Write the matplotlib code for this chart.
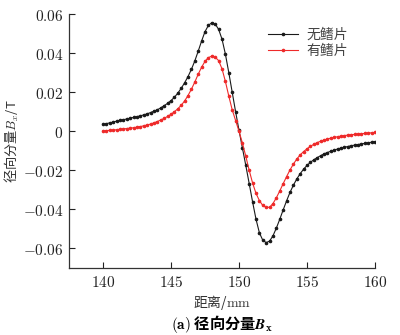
import matplotlib.pyplot as plt
import numpy as np

plt.rcParams['font.family'] = ['Noto Sans CJK SC', 'DejaVu Sans']
plt.rcParams['mathtext.fontset'] = 'cm'

# distance along the scan line, mm
x = np.arange(140, 160.001, 0.25)

# radial component Bx, T -- without fins
bx_plain = [
    0.0035, 0.0039, 0.0043, 0.0047, 0.0052, 0.0056, 0.0059, 0.0063,
    0.0067, 0.0071, 0.0075, 0.0079, 0.0084, 0.0089, 0.0096, 0.0103,
    0.0110, 0.0120, 0.0131, 0.0143, 0.0157, 0.0174, 0.0195, 0.0220,
    0.0248, 0.0280, 0.0317, 0.0360, 0.0410, 0.0462, 0.0510, 0.0542,
    0.0556, 0.0549, 0.0522, 0.0472, 0.0395, 0.0300, 0.0200, 0.0100,
    0.0005, -0.0085, -0.0175, -0.0268, -0.0362, -0.0450, -0.0520, -0.0558,
    -0.0570, -0.0562, -0.0535, -0.0495, -0.0450, -0.0402, -0.0356, -0.0313,
    -0.0276, -0.0244, -0.0217, -0.0194, -0.0175, -0.0159, -0.0146, -0.0135,
    -0.0125, -0.0116, -0.0109, -0.0102, -0.0096, -0.0091, -0.0086, -0.0082,
    -0.0078, -0.0074, -0.0071, -0.0068, -0.0065, -0.0062, -0.0059, -0.0056,
    -0.0053,
]

# radial component Bx, T -- with fins
bx_fins = [
    0.0001, 0.0003, 0.0005, 0.0006, 0.0008, 0.0010, 0.0012, 0.0014,
    0.0016, 0.0018, 0.0021, 0.0024, 0.0028, 0.0032, 0.0037, 0.0043,
    0.0050, 0.0058, 0.0066, 0.0076, 0.0087, 0.0100, 0.0115, 0.0133,
    0.0155, 0.0183, 0.0215, 0.0252, 0.0292, 0.0328, 0.0358, 0.0377,
    0.0385, 0.0379, 0.0362, 0.0320, 0.0255, 0.0180, 0.0110, 0.0055,
    0.0000, -0.0060, -0.0128, -0.0200, -0.0265, -0.0318, -0.0355, -0.0380,
    -0.0390, -0.0389, -0.0370, -0.0340, -0.0305, -0.0268, -0.0232, -0.0198,
    -0.0168, -0.0142, -0.0121, -0.0104, -0.0090, -0.0077, -0.0067, -0.0058,
    -0.0051, -0.0045, -0.0040, -0.0035, -0.0031, -0.0028, -0.0025, -0.0022,
    -0.0020, -0.0018, -0.0016, -0.0014, -0.0013, -0.0011, -0.0009, -0.0008,
    -0.0006,
]

xticks = [140, 145, 150, 155, 160]
yticks = [-0.06, -0.04, -0.02, 0, 0.02, 0.04, 0.06]
ytick_labels = ['$-0.06$', '$-0.04$', '$-0.02$', '$0$', '$0.02$', '$0.04$', '$0.06$']

fig = plt.figure(figsize=(4.0, 3.35), dpi=100)
ax = fig.add_axes([0.1725, 0.2, 0.765, 0.758])

ax.plot(x, bx_plain, color='#1a1a1a', lw=0.8, marker='o', ms=1.6,
        label='无鳍片')
ax.plot(x, bx_fins, color='#ee2a2a', lw=0.8, marker='o', ms=1.6,
        label='有鳍片')

ax.set_xlim(137.5, 160)
ax.set_ylim(-0.07, 0.06)
ax.set_xticks(xticks)
ax.set_xticklabels([f'${t}$' for t in xticks])
ax.set_yticks(yticks)
ax.set_yticklabels(ytick_labels)
ax.tick_params(direction='in', length=4, width=0.8, labelsize=11,
               colors='#222222', pad=4)
ax.spines['top'].set_visible(False)
ax.spines['right'].set_visible(False)
for s in ('left', 'bottom'):
    ax.spines[s].set_linewidth(0.9)
    ax.spines[s].set_color('#333333')

ax.set_ylabel('径向分量$B_x$/T', fontsize=9.5, color='#333333', labelpad=1)
ax.set_xlabel(r'距离/$\mathrm{mm}$', fontsize=10, color='#333333', labelpad=2)

leg = ax.legend(loc='upper left', bbox_to_anchor=(0.65, 0.945), frameon=False,
                fontsize=10, handlelength=2.2, handletextpad=0.6,
                labelspacing=0.15, borderpad=0, borderaxespad=0)
for t in leg.get_texts():
    t.set_color('#444444')

fig.text(0.555, 0.032, r'$\mathbf{(a)}$ 径向分量$\mathbfit{B}_\mathbf{x}$',
         ha='center', va='center', fontsize=11, fontweight='bold')

fig.savefig('out.png', dpi=100)
